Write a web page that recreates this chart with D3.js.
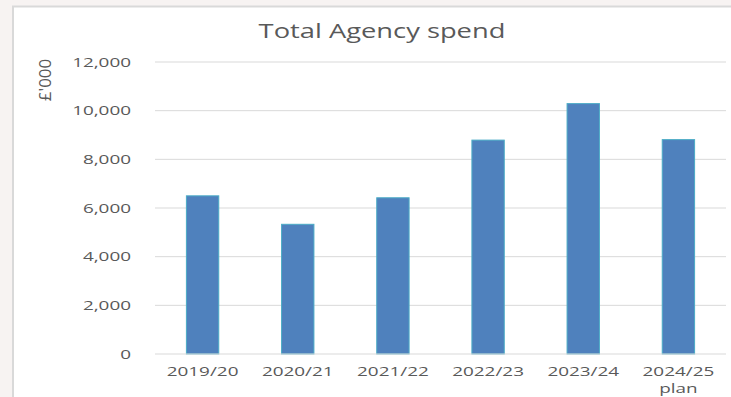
<!DOCTYPE html>
<html>
<head>
<meta charset="utf-8">
<script src="https://cdn.jsdelivr.net/npm/d3@7"></script>
<style>
  html, body { margin: 0; padding: 0; background: #f7f3f2; }
  svg { display: block; }
</style>
</head>
<body>
<script>
// Annual agency spend, £'000
const categories = ["2019/20", "2020/21", "2021/22", "2022/23", "2023/24", "2024/25\nplan"];
const spend = [6500, 5330, 6420, 8790, 10290, 8810];
const yTicks = [0, 2000, 4000, 6000, 8000, 10000, 12000];

const W = 731, H = 397;
const svg = d3.select("body").append("svg").attr("width", W).attr("height", H);

// White chart panel with a light grey frame
svg.append("rect").attr("x", 13).attr("y", 6.5).attr("width", W).attr("height", H)
  .attr("fill", "#ffffff").attr("stroke", "#d9d9d9").attr("stroke-width", 2);

const font = "'Open Sans', 'Liberation Sans', sans-serif";
const textCol = "#595959";
const stretch = 1.4; // wide lettering used throughout the chart

const x = d3.scaleBand().domain(categories).range([155, 726]).paddingInner(0.66).paddingOuter(0.33);
const y = d3.scaleLinear().domain([0, 12000]).range([354, 62]);

// Gridlines
svg.append("g").selectAll("line").data(yTicks.filter(d => d > 0)).join("line")
  .attr("x1", 155).attr("x2", 726)
  .attr("y1", d => y(d)).attr("y2", d => y(d))
  .attr("stroke", "#d9d9d9").attr("stroke-width", 1);

// Y axis labels
const yAxis = d3.axisLeft(y).tickValues(yTicks).tickSize(0).tickPadding(0)
  .tickFormat(d3.format(","));
svg.append("g").attr("transform", "translate(131,0)").call(yAxis)
  .call(g => g.select(".domain").remove())
  .selectAll("text")
  .attr("font-family", font).attr("font-size", 13.5).attr("fill", textCol)
  .attr("transform", `scale(${stretch},1)`);

// Bars
svg.append("g").selectAll("rect").data(spend).join("rect")
  .attr("x", (d, i) => x(categories[i]))
  .attr("y", d => y(d))
  .attr("width", x.bandwidth())
  .attr("height", d => y(0) - y(d))
  .attr("fill", "#4f81bd")
  .attr("stroke", "#4bacc6").attr("stroke-width", 1);

// Category axis line
svg.append("line").attr("x1", 155).attr("x2", 726).attr("y1", y(0)).attr("y2", y(0))
  .attr("stroke", "#d9d9d9").attr("stroke-width", 1);

// Category labels, one text per line
const labelLines = categories.flatMap(c =>
  c.split("\n").map((p, k) => ({ cat: c, text: p, line: k })));
svg.append("g").selectAll("text").data(labelLines).join("text")
  .attr("transform", d => `translate(${x(d.cat) + x.bandwidth() / 2},${376 + d.line * 17}) scale(${stretch},1)`)
  .attr("text-anchor", "middle")
  .attr("font-family", font).attr("font-size", 13.5).attr("fill", textCol)
  .text(d => d.text);

// Title
svg.append("text").attr("transform", `translate(382,38) scale(${stretch},1)`)
  .attr("text-anchor", "middle")
  .attr("font-family", font).attr("font-size", 19.5).attr("fill", textCol)
  .text("Total Agency spend");

// Y axis title
svg.append("text")
  .attr("transform", "translate(51,80) rotate(-90) scale(1.3,1.2)")
  .attr("text-anchor", "middle")
  .attr("font-family", font).attr("font-size", 13).attr("fill", textCol)
  .text("£'000");
</script>
</body>
</html>
